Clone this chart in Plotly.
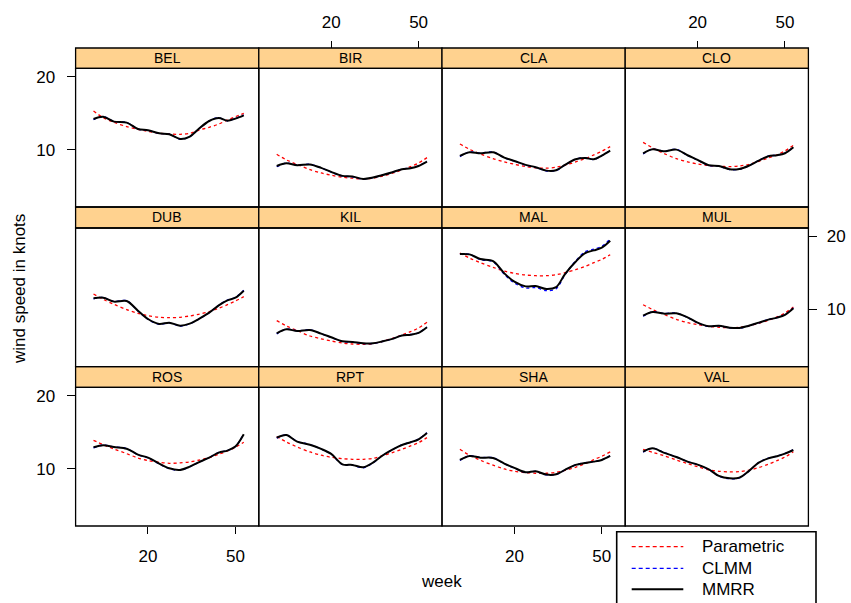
import plotly.graph_objects as go

# ---------------- data ----------------
stations = ["BEL", "BIR", "CLA", "CLO", "DUB", "KIL", "MAL", "MUL", "ROS", "RPT", "SHA", "VAL"]
weeks = [11.3, 12.5, 14, 16, 18, 20, 22.5, 25, 28, 31, 34, 38, 42, 46, 50, 54.6]
x_ticks = [20, 50]
y_ticks = [10, 20]

# Parametric fits
par_BEL = [14.44, 13.56, 12.97, 12.45, 12.13, 11.90, 11.68, 11.61, 11.57, 11.68, 12.02, 12.37, 12.76, 13.26, 13.68, 14.13]
par_BIR = [9.57, 9.07, 8.68, 8.27, 8.01, 7.84, 7.69, 7.62, 7.57, 7.62, 7.76, 7.99, 8.25, 8.51, 8.81, 9.27]
par_CLA = [10.55, 10.03, 9.60, 9.18, 8.90, 8.70, 8.51, 8.41, 8.38, 8.46, 8.62, 8.90, 9.18, 9.51, 9.84, 10.29]
par_CLO = [10.72, 10.16, 9.66, 9.18, 8.90, 8.73, 8.59, 8.54, 8.51, 8.56, 8.68, 8.95, 9.24, 9.51, 9.88, 10.42]
par_DUB = [11.57, 11.00, 10.49, 9.97, 9.63, 9.42, 9.27, 9.24, 9.27, 9.39, 9.54, 9.78, 10.10, 10.45, 10.82, 11.28]
par_KIL = [8.98, 8.54, 8.17, 7.76, 7.55, 7.40, 7.26, 7.19, 7.17, 7.22, 7.36, 7.59, 7.84, 8.09, 8.38, 8.84]
par_MAL = [17.08, 16.28, 15.58, 14.91, 14.39, 14.08, 13.86, 13.77, 13.77, 13.90, 14.17, 14.58, 15.05, 15.58, 16.08, 16.81]
par_MUL = [10.45, 9.97, 9.54, 9.09, 8.81, 8.65, 8.51, 8.43, 8.40, 8.43, 8.54, 8.76, 9.01, 9.30, 9.66, 10.23]
par_ROS = [13.09, 12.56, 12.06, 11.53, 11.07, 10.79, 10.62, 10.52, 10.56, 10.66, 10.83, 11.10, 11.46, 11.83, 12.25, 12.85]
par_RPT = [13.56, 12.89, 12.29, 11.72, 11.36, 11.14, 11.00, 10.93, 10.93, 11.03, 11.28, 11.65, 12.02, 12.41, 12.81, 13.43]
par_SHA = [12.02, 11.36, 10.83, 10.33, 9.97, 9.75, 9.63, 9.57, 9.57, 9.66, 9.84, 10.13, 10.49, 10.89, 11.25, 11.72]
par_VAL = [12.02, 11.68, 11.32, 10.86, 10.49, 10.19, 9.88, 9.75, 9.69, 9.72, 9.84, 10.10, 10.42, 10.79, 11.17, 11.75]

# CLMM fits
clmm_BEL = [13.30, 13.70, 13.08, 12.95, 12.15, 12.00, 11.66, 11.59, 11.04, 11.30, 12.15, 13.15, 13.55, 13.15, 13.45, 13.90]
clmm_BIR = [8.50, 8.80, 8.64, 8.70, 8.40, 8.07, 7.78, 7.72, 7.55, 7.66, 7.83, 8.06, 8.31, 8.40, 8.58, 8.95]
clmm_CLA = [9.36, 9.77, 9.68, 9.78, 9.25, 8.96, 8.63, 8.44, 8.16, 8.20, 8.64, 9.13, 9.26, 9.10, 9.44, 9.93]
clmm_CLO = [9.60, 10.05, 9.86, 10.03, 9.46, 9.05, 8.60, 8.55, 8.27, 8.30, 8.55, 9.02, 9.40, 9.49, 9.68, 10.26]
clmm_DUB = [11.05, 11.19, 10.78, 10.86, 9.85, 9.09, 8.67, 8.80, 8.53, 8.71, 9.10, 9.68, 10.40, 10.92, 11.20, 11.98]
clmm_KIL = [7.92, 8.29, 8.15, 8.24, 7.93, 7.65, 7.36, 7.32, 7.22, 7.23, 7.35, 7.55, 7.80, 7.87, 8.00, 8.46]
clmm_MAL = [16.92, 16.87, 16.03, 15.73, 13.94, 12.84, 12.25, 12.29, 11.94, 12.17, 13.90, 15.83, 17.30, 17.74, 18.19, 19.51]
clmm_MUL = [9.36, 9.77, 9.62, 9.66, 9.25, 8.79, 8.49, 8.55, 8.38, 8.36, 8.53, 8.80, 9.08, 9.25, 9.50, 10.14]
clmm_ROS = [12.18, 12.50, 12.31, 12.11, 11.41, 11.08, 10.46, 10.00, 9.84, 10.17, 10.61, 11.10, 11.67, 11.88, 12.35, 13.92]
clmm_RPT = [13.36, 13.80, 12.95, 12.58, 12.05, 11.48, 10.39, 10.33, 10.08, 10.56, 11.27, 11.98, 12.54, 12.86, 13.24, 14.08]
clmm_SHA = [10.80, 11.30, 11.12, 11.09, 10.47, 10.05, 9.63, 9.74, 9.42, 9.46, 9.87, 10.36, 10.58, 10.70, 10.88, 11.31]
clmm_VAL = [11.70, 12.15, 11.67, 11.18, 10.70, 10.38, 9.92, 9.30, 9.08, 9.15, 9.71, 10.60, 11.05, 11.27, 11.55, 11.97]

# MMRR fits
mmrr_BEL = [13.39, 13.68, 13.05, 12.93, 12.17, 12.02, 11.68, 11.57, 11.07, 11.32, 12.17, 13.13, 13.51, 13.17, 13.43, 13.86]
mmrr_BIR = [8.56, 8.78, 8.62, 8.68, 8.41, 8.09, 7.79, 7.74, 7.57, 7.67, 7.84, 8.07, 8.30, 8.38, 8.56, 8.92]
mmrr_CLA = [9.42, 9.75, 9.66, 9.75, 9.27, 8.98, 8.65, 8.46, 8.19, 8.22, 8.65, 9.12, 9.24, 9.12, 9.45, 9.91]
mmrr_CLO = [9.66, 10.03, 9.84, 10.00, 9.48, 9.07, 8.62, 8.56, 8.30, 8.32, 8.56, 9.01, 9.39, 9.48, 9.66, 10.23]
mmrr_DUB = [11.10, 11.17, 10.76, 10.82, 9.87, 9.12, 8.70, 8.81, 8.56, 8.73, 9.12, 9.69, 10.39, 10.89, 11.17, 11.94]
mmrr_KIL = [7.96, 8.27, 8.14, 8.22, 7.94, 7.67, 7.38, 7.33, 7.24, 7.24, 7.36, 7.55, 7.79, 7.86, 7.99, 8.43]
mmrr_MAL = [16.92, 16.87, 16.13, 15.83, 14.08, 13.01, 12.44, 12.48, 12.13, 12.36, 13.99, 15.73, 17.08, 17.52, 17.97, 19.20]
mmrr_MUL = [9.42, 9.75, 9.60, 9.63, 9.27, 8.81, 8.51, 8.56, 8.40, 8.38, 8.54, 8.81, 9.07, 9.24, 9.48, 10.10]
mmrr_ROS = [12.25, 12.49, 12.29, 12.09, 11.43, 11.10, 10.49, 10.03, 9.88, 10.19, 10.62, 11.10, 11.65, 11.87, 12.33, 13.86]
mmrr_RPT = [13.43, 13.77, 12.93, 12.56, 12.06, 11.50, 10.42, 10.36, 10.13, 10.59, 11.28, 11.98, 12.52, 12.85, 13.22, 14.04]
mmrr_SHA = [10.86, 11.28, 11.10, 11.07, 10.49, 10.07, 9.66, 9.75, 9.45, 9.48, 9.88, 10.36, 10.56, 10.69, 10.86, 11.28]
mmrr_VAL = [11.75, 12.13, 11.65, 11.17, 10.69, 10.39, 9.94, 9.33, 9.12, 9.18, 9.72, 10.59, 11.03, 11.25, 11.53, 11.94]

par = dict(BEL=par_BEL, BIR=par_BIR, CLA=par_CLA, CLO=par_CLO, DUB=par_DUB, KIL=par_KIL,
           MAL=par_MAL, MUL=par_MUL, ROS=par_ROS, RPT=par_RPT, SHA=par_SHA, VAL=par_VAL)
clmm = dict(BEL=clmm_BEL, BIR=clmm_BIR, CLA=clmm_CLA, CLO=clmm_CLO, DUB=clmm_DUB, KIL=clmm_KIL,
            MAL=clmm_MAL, MUL=clmm_MUL, ROS=clmm_ROS, RPT=clmm_RPT, SHA=clmm_SHA, VAL=clmm_VAL)
mmrr = dict(BEL=mmrr_BEL, BIR=mmrr_BIR, CLA=mmrr_CLA, CLO=mmrr_CLO, DUB=mmrr_DUB, KIL=mmrr_KIL,
            MAL=mmrr_MAL, MUL=mmrr_MUL, ROS=mmrr_ROS, RPT=mmrr_RPT, SHA=mmrr_SHA, VAL=mmrr_VAL)

# ---------------- layout geometry ----------------
W, H = 851, 603
FONT = "Liberation Sans, Arial, Helvetica, sans-serif"
col_edges = [75.6, 258.8, 442.0, 625.2, 808.4]
panel_rows = [(68.3, 207.0), (228.0, 366.7), (387.3, 526.0)]
strip_rows = [(48.0, 68.3), (207.0, 228.0), (366.7, 387.3)]
XR = [0.9715, 1.8056]
YR = [0.763, 1.336]
STRIP_COL = "#FFD28F"


def px(x):
    return x / W


def py(y):
    return 1 - y / H


fig = go.Figure()
shapes = []
annotations = []
layout_axes = {}

series_style = [
    ("Parametric", par, dict(color="red", dash="3px,3px", width=1.3)),
    ("CLMM", clmm, dict(color="blue", dash="3px,3px", width=1.3)),
    ("MMRR", mmrr, dict(color="black", width=2.0)),
]

for i, st in enumerate(stations):
    r, c = divmod(i, 4)
    k = i + 1
    xa = "x" if k == 1 else f"x{k}"
    ya = "y" if k == 1 else f"y{k}"
    for name, src, ls in series_style:
        fig.add_trace(go.Scatter(
            x=weeks, y=src[st], mode="lines", name=name,
            line=dict(shape="spline", smoothing=0.9, **ls),
            xaxis=xa, yaxis=ya, showlegend=False, hoverinfo="skip"))

    x0, x1 = col_edges[c], col_edges[c + 1]
    pt, pb = panel_rows[r]
    st_t, st_b = strip_rows[r]

    xd = dict(type="log", range=XR, domain=[px(x0), px(x1)], anchor=ya,
              showgrid=False, zeroline=False, showline=False,
              tickvals=x_ticks, ticktext=[str(v) for v in x_ticks],
              ticks="", showticklabels=False, fixedrange=True,
              tickfont=dict(family=FONT, size=17, color="black"))
    yd = dict(type="log", range=YR, domain=[py(pb), py(pt)], anchor=xa,
              showgrid=False, zeroline=False, showline=False,
              tickvals=y_ticks, ticktext=[str(v) for v in y_ticks],
              ticks="", showticklabels=False, fixedrange=True,
              tickfont=dict(family=FONT, size=17, color="black"))
    tick_on = dict(ticks="outside", ticklen=7, tickwidth=1, tickcolor="black", showticklabels=True)
    if r == 2 and c in (0, 2):
        xd.update(tick_on, side="bottom", ticklabelstandoff=8)
    if r == 0 and c in (1, 3):
        xd.update(tick_on, side="top", anchor="free", position=py(st_t), ticklabelstandoff=6)
    if c == 0 and r in (0, 2):
        yd.update(tick_on, side="left", ticklen=8, ticklabelstandoff=8)
    if c == 3 and r == 1:
        yd.update(tick_on, side="right", ticklen=8, ticklabelstandoff=6)

    layout_axes["xaxis" if k == 1 else f"xaxis{k}"] = xd
    layout_axes["yaxis" if k == 1 else f"yaxis{k}"] = yd

    # panel border
    shapes.append(dict(type="rect", xref="paper", yref="paper",
                       x0=px(x0), x1=px(x1), y0=py(pb), y1=py(pt),
                       line=dict(color="black", width=1.3), fillcolor="rgba(0,0,0,0)", layer="above"))
    # strip
    shapes.append(dict(type="rect", xref="paper", yref="paper",
                       x0=px(x0), x1=px(x1), y0=py(st_b), y1=py(st_t),
                       line=dict(color="black", width=1.3), fillcolor=STRIP_COL, layer="below"))
    annotations.append(dict(text=st, xref="paper", yref="paper",
                            x=px((x0 + x1) / 2), y=py((st_t + st_b) / 2),
                            xanchor="center", yanchor="middle", showarrow=False,
                            font=dict(family=FONT, size=14, color="black")))

# axis titles
annotations.append(dict(text="week", xref="paper", yref="paper", x=px(441), y=py(581),
                        xanchor="center", yanchor="middle", showarrow=False,
                        font=dict(family=FONT, size=17, color="black")))
annotations.append(dict(text="wind speed in knots", xref="paper", yref="paper", x=px(20), y=py(289),
                        xanchor="center", yanchor="middle", showarrow=False, textangle=-90,
                        font=dict(family=FONT, size=17, color="black")))

# legend (key)
shapes.append(dict(type="rect", xref="paper", yref="paper",
                   x0=px(616.7), x1=px(816.0), y0=py(640), y1=py(531.7),
                   line=dict(color="black", width=1.6), fillcolor="white", layer="above"))
legend_items = [("Parametric", "red", "dot", 546.7, 1.3),
                ("CLMM", "blue", "dot", 568.3, 1.3),
                ("MMRR", "black", "solid", 589.3, 2.0)]
for label, colr, dsh, yy, wd in legend_items:
    shapes.append(dict(type="line", xref="paper", yref="paper",
                       x0=px(631.7), x1=px(683.3), y0=py(yy), y1=py(yy),
                       line=dict(color=colr, width=wd, dash=("4px,3px" if dsh == "dot" else "solid")),
                       layer="above"))
    annotations.append(dict(text=label, xref="paper", yref="paper", x=px(700), y=py(yy),
                            xanchor="left", yanchor="middle", showarrow=False,
                            font=dict(family=FONT, size=17, color="black")))

fig.update_layout(
    width=W, height=H,
    margin=dict(l=0, r=0, t=0, b=0),
    paper_bgcolor="white", plot_bgcolor="white",
    font=dict(family=FONT, size=17, color="black"),
    shapes=shapes, annotations=annotations,
    showlegend=False,
    **layout_axes,
)

fig.write_html("out.html", config={"displayModeBar": False},
               post_script="document.body.style.margin='0px';document.body.style.overflow='hidden';")
